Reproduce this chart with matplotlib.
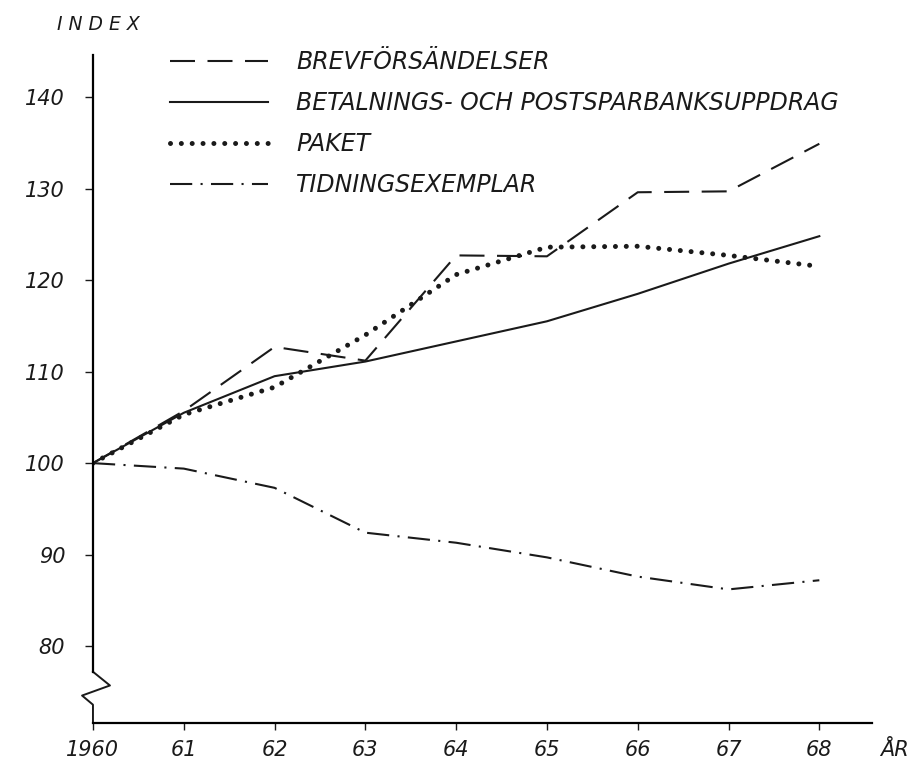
import matplotlib
matplotlib.use("Agg")
import matplotlib.pyplot as plt

plt.rcParams['font.family'] = ['DejaVu Sans']
plt.rcParams['lines.scale_dashes'] = False

years = [1960, 1961, 1962, 1963, 1964, 1965, 1966, 1967, 1968]
year_labels = ['1960', '61', '62', '63', '64', '65', '66', '67', '68']
brev = [100, 105.7, 112.7, 111.2, 122.7, 122.6, 129.6, 129.7, 134.9]
betalning = [100, 105.5, 109.5, 111.1, 113.3, 115.5, 118.5, 121.8, 124.8]
paket = [100, 105.3, 108.3, 114.0, 120.6, 123.6, 123.7, 122.7, 121.5]
tidning = [100, 99.4, 97.3, 92.4, 91.3, 89.7, 87.6, 86.2, 87.2]
yticks = [80, 90, 100, 110, 120, 130, 140]

labels = ['BREVFÖRSÄNDELSER', 'BETALNINGS- OCH POSTSPARBANKSUPPDRAG',
          'PAKET', 'TIDNINGSEXEMPLAR']

fig = plt.figure(figsize=(9.15, 7.65), dpi=100)
ax = fig.add_axes([0.1016, 0.0549, 0.8514, 0.8732])

ink = '#1a1a1a'
ax.plot(years, brev, color=ink, lw=1.5, linestyle=(0, (18, 9)), label=labels[0])
ax.plot(years, betalning, color=ink, lw=1.5, label=labels[1])
ax.plot(years, paket, color=ink, lw=3.6, linestyle=(0, (0.01, 7.8)),
        dash_capstyle='round', label=labels[2])
ax.plot(years, tidning, color=ink, lw=1.5, linestyle=(0, (16, 6, 1.5, 6)), label=labels[3])

ax.set_xlim(1960, 1968.58)
ax.set_ylim(71.6, 144.6)

# axes: only left and bottom, left one with a break near the bottom
for s in ['top', 'right']:
    ax.spines[s].set_visible(False)
ax.spines['left'].set_bounds(77.2, 144.6)
ax.spines['bottom'].set_linewidth(1.6)
ax.spines['left'].set_linewidth(1.6)
ax.plot([1960, 1960.187, 1959.88, 1960, 1960], [77.2, 75.7, 74.6, 73.6, 71.6],
        color=ink, lw=1.4, clip_on=False)

txt = dict(style='italic', color=ink)
ax.set_xticks(years)
ax.set_xticklabels(year_labels, fontsize=15, **txt)
ax.set_yticks(yticks)
ax.set_yticklabels([str(v) for v in yticks], fontsize=15, **txt)
ax.tick_params(axis='y', direction='out', length=6, width=1, pad=14, colors=ink)
ax.tick_params(axis='x', direction='out', length=5, width=1, pad=7, colors=ink)

fig.text(57 / 915, 1 - 24 / 765, 'I N D E X', fontsize=13.5, va='center', ha='left', **txt)
fig.text(0.962, 1 - 750 / 765, 'ÅR', fontsize=15, va='center', ha='left', **txt)

leg = ax.legend(loc='upper left', bbox_to_anchor=(170 / 915, 1 - 50 / 765),
                bbox_transform=fig.transFigure, frameon=False, fontsize=17,
                handlelength=4.15, handletextpad=1.2, labelspacing=0.72,
                borderpad=0, borderaxespad=0)
for t in leg.get_texts():
    t.set_style('italic')
    t.set_color(ink)

fig.savefig('out.png', dpi=100, facecolor='white')
